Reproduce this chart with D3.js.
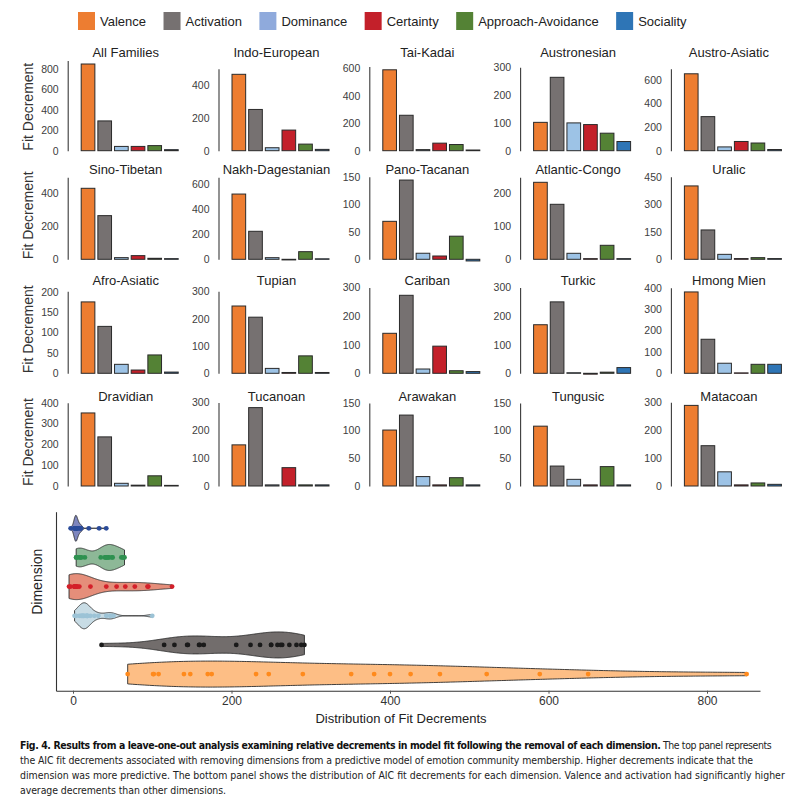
<!DOCTYPE html>
<html><head><meta charset="utf-8">
<script src="https://cdn.jsdelivr.net/npm/d3@7/dist/d3.min.js"></script>
<style>
body{margin:0;background:#fff;}
svg{display:block;font-family:"Liberation Sans",Arial,Helvetica,sans-serif;}
</style></head><body>
<svg id="chart" width="803" height="808"></svg>
<script>
// ---------- DATA ----------
const dimensions = ["Valence","Activation","Dominance","Certainty","Approach-Avoidance","Sociality"];
const families = ["All Families","Indo-European","Tai-Kadai","Austronesian","Austro-Asiatic",
  "Sino-Tibetan","Nakh-Dagestanian","Pano-Tacanan","Atlantic-Congo","Uralic",
  "Afro-Asiatic","Tupian","Cariban","Turkic","Hmong Mien",
  "Dravidian","Tucanoan","Arawakan","Tungusic","Matacoan"];
const valence    = [850, 463, 589, 102, 650, 426, 522,  69, 231, 400, 175, 247, 140, 170, 380, 351, 148, 101, 108, 290];
const activation = [292, 250, 258, 264, 288, 262, 224, 144, 165, 160, 115, 206, 273, 250, 159, 236, 282, 128,  36, 145];
const dominance  = [ 42,  18,   8, 100,  32,  10,  13,  11,  18,  27,  22,  18,  15,   2,  47,  13,   4,  17,  12,  51];
const certainty  = [ 42, 125,  55,  94,  78,  22,  -5,   6,   2,   4,   8,   3,  95,  -3,   2,   4,  66,   2,   2,   4];
const approach   = [ 50,  40,  45,  63,  65,   6,  61,  42,  42,   9,  45,  64,   9,   4,  42,  49,   4,  15,  35,  11];
const sociality  = [ 10,   8,   5,  33,  10,   4,   4,  -3,   2,   4,   3,   3,   6,  20,  42,   3,   4,   2,   2,   6];
const yMax = [804, 497, 597, 295, 693, 492, 656, 149, 246, 447, 201, 301, 287, 287, 383, 394, 295, 148, 148, 295];
const yTicks = [
  [0,200,400,600,800],[0,200,400],[0,200,400,600],[0,100,200,300],[0,200,400,600],
  [0,200,400],[0,200,400,600],[0,50,100,150],[0,100,200],[0,150,300,450],
  [0,50,100,150,200],[0,100,200,300],[0,100,200,300],[0,100,200,300],[0,100,200,300,400],
  [0,100,200,300,400],[0,100,200,300],[0,50,100,150],[0,50,100,150],[0,100,200,300]];
const violinTicks = [0,200,400,600,800];
const captionBold = "Fig. 4. Results from a leave-one-out analysis examining relative decrements in model fit following the removal of each dimension.";
const captionLines = [
  " The top panel represents",
  "the AIC fit decrements associated with removing dimensions from a predictive model of emotion community membership. Higher decrements indicate that the",
  "dimension was more predictive. The bottom panel shows the distribution of AIC fit decrements for each dimension. Valence and activation had significantly higher",
  "average decrements than other dimensions."];

const series = [valence, activation, dominance, certainty, approach, sociality];

// ---------- STYLE ----------
const barColor = {"Valence":"#ED7D31","Activation":"#767171","Dominance":"#9DC3E6","Certainty":"#C3202A","Approach-Avoidance":"#548235","Sociality":"#2E75B6"};
const legendColor = {"Valence":"#ED7D31","Activation":"#767171","Dominance":"#8FAADC","Certainty":"#C3202A","Approach-Avoidance":"#548235","Sociality":"#2E75B6"};
const violinFill = {"Valence":"#FDBE85","Activation":"#726D6C","Dominance":"#C8DCE5","Certainty":"#E58E7A","Approach-Avoidance":"#8DB897","Sociality":"#7E86BE"};
const violinDot  = {"Valence":"#FF8A1C","Activation":"#1A1A1A","Dominance":"#9CC3D6","Certainty":"#D4202A","Approach-Avoidance":"#2E9150","Sociality":"#2A4B9A"};

const svg = d3.select("#chart");

// ---------- LEGEND ----------
{
  let lx = 78;
  dimensions.forEach(d => {
    svg.append("rect").attr("x", lx).attr("y", 12).attr("width", 17).attr("height", 18).attr("fill", legendColor[d]);
    const t = svg.append("text").attr("x", lx + 22).attr("y", 25.5).attr("font-size", 13).attr("fill", "#222").text(d);
    const w = t.node().getComputedTextLength();
    lx += 22 + w + 17.5;
  });
}

// ---------- SMALL MULTIPLES ----------
const rowZero = [150.7, 259.3, 373.3, 486];
const rowTitle = [57, 173.5, 284.5, 400.5];
const plotH = 82;

families.forEach((fam, i) => {
  const r = Math.floor(i / 5), c = i % 5;
  const ax = 67.7 + c * 150.8;
  const z = rowZero[r];
  const vals = series.map(s => s[i]);
  const y = d3.scaleLinear().domain([0, yMax[i]]).range([z, z - plotH]);
  const x = d3.scaleBand().domain(dimensions).range([ax + 12, ax + 112]).paddingInner(0.18).paddingOuter(0.09);
  const g = svg.append("g");

  const top = Math.max(yMax[i], d3.max(yTicks[i]), 1.04 * d3.max(vals));
  const yAxisScale = y.copy().domain([0, top]).range([y(0), y(top)]);
  const axisG = g.append("g").attr("transform", `translate(${ax},0)`)
    .call(d3.axisLeft(yAxisScale).tickValues(yTicks[i]).tickSize(0).tickSizeOuter(0).tickPadding(9));
  axisG.select(".domain").attr("stroke", "#3a3a3a").attr("stroke-width", 1.1);
  axisG.selectAll("text").attr("font-size", 10.5).attr("fill", "#404040").attr("font-family", "Liberation Sans, Arial, sans-serif");

  g.selectAll("rect.bar").data(dimensions).join("rect").attr("class", "bar")
    .attr("x", d => x(d)).attr("width", x.bandwidth())
    .attr("y", (d, k) => y(Math.max(0, vals[k])))
    .attr("height", (d, k) => Math.abs(y(vals[k]) - y(0)))
    .attr("fill", d => barColor[d])
    .attr("stroke", "#2a2a2a").attr("stroke-width", 1);

  g.append("text").attr("x", ax + 58).attr("y", rowTitle[r]).attr("text-anchor", "middle")
    .attr("font-size", 13).attr("fill", "#222").text(fam);

  if (c === 0) {
    g.append("text").attr("transform", `translate(33,${z - 44}) rotate(-90)`)
      .attr("text-anchor", "middle").attr("font-size", 14).attr("fill", "#333").text("Fit Decrement");
  }
});

// ---------- VIOLIN PLOT ----------
const xv = d3.scaleLinear().domain([0, 800]).range([73, 707]);
const vLeft = 56, vRight = 760, vTop = 511.7, vBottom = 690.7;
const yv = d3.scalePoint().domain(dimensions).range([vBottom, vTop]).padding(0.57);

const xAxisScale = xv.copy().domain([xv.invert(vLeft), xv.invert(vRight)]).range([vLeft, vRight]);
const xg = svg.append("g").attr("transform", `translate(0,${vBottom})`)
  .call(d3.axisBottom(xAxisScale).tickValues(violinTicks).tickSize(3).tickSizeOuter(0).tickPadding(3));
xg.select(".domain").attr("stroke", "#333").attr("stroke-width", 1.1);
xg.selectAll(".tick line").attr("stroke", "#555");
xg.selectAll("text").attr("font-size", 12).attr("fill", "#333").attr("font-family", "Liberation Sans, Arial, sans-serif");

const yg = svg.append("g").attr("transform", `translate(${vLeft},0)`)
  .call(d3.axisLeft(yv).tickValues([]).tickSizeOuter(0));
yg.select(".domain").attr("stroke", "#333").attr("stroke-width", 1.1);

function kde(vals) {
  const s = vals.slice().sort(d3.ascending);
  const n = s.length;
  const sd = d3.deviation(s);
  const iqr = d3.quantile(s, 0.75) - d3.quantile(s, 0.25);
  const bw = 0.9 * Math.min(sd, iqr / 1.34) * Math.pow(n, -0.2);
  const lo = s[0], hi = s[n - 1];
  return d3.range(256).map(k => {
    const p = lo + (hi - lo) * k / 255;
    const dens = d3.mean(s, v => Math.exp(-0.5 * ((p - v) / bw) ** 2)) / (bw * Math.sqrt(2 * Math.PI));
    return [p, dens];
  });
}

dimensions.forEach((d, k) => {
  const vals = series[k];
  const dens = kde(vals);
  const cy = yv(d);
  const w = d3.scaleLinear().domain([0, d3.max(dens, e => e[1])]).range([0, 13]);
  const area = d3.area().x(e => xv(e[0])).y0(e => cy - w(e[1])).y1(e => cy + w(e[1])).curve(d3.curveBasis);
  svg.append("path").datum(dens).attr("d", area)
    .attr("fill", violinFill[d]).attr("stroke", "#2b2b2b").attr("stroke-width", 0.9);
  svg.append("g").selectAll("circle").data(vals).join("circle")
    .attr("cx", v => xv(v)).attr("cy", cy).attr("r", 2.4).attr("fill", violinDot[d]);
});

svg.append("text").attr("transform", `translate(42,581.7) rotate(-90)`)
  .attr("text-anchor", "middle").attr("font-size", 14).attr("fill", "#222").text("Dimension");
svg.append("text").attr("x", 401).attr("y", 723).attr("text-anchor", "middle")
  .attr("font-size", 13).attr("fill", "#222").text("Distribution of Fit Decrements");

// ---------- CAPTION ----------
const capFont = '"Liberation Sans Narrow","Arial Narrow","DejaVu Sans Condensed",sans-serif';
const capY = [749, 764, 779, 794];
const capEnd = [771, 753, 786, 226];
const capTexts = captionLines.map((line, k) => {
  const t = svg.append("text").attr("x", 20).attr("y", capY[k])
    .attr("font-size", 11.5).attr("fill", "#222").attr("font-family", capFont);
  if (k === 0) t.append("tspan").attr("font-weight", "bold").attr("fill", "#111").text(captionBold);
  t.append("tspan").text(line);
  return t;
});
// one font size so the longest line spans the caption width
const natural = capTexts[2].node().getComputedTextLength();
const capSize = 11.5 * ((capEnd[2] - 20) / natural);
capTexts.forEach(t => t.attr("font-size", capSize));
// tighten letter spacing on any line that is still too long
capTexts.forEach((t, k) => {
  const w = t.node().getComputedTextLength();
  const target = capEnd[k] - 20;
  if (w > target) {
    const chars = t.text().length;
    t.attr("letter-spacing", ((target - w) / chars).toFixed(3));
  }
});
</script>
</body></html>
